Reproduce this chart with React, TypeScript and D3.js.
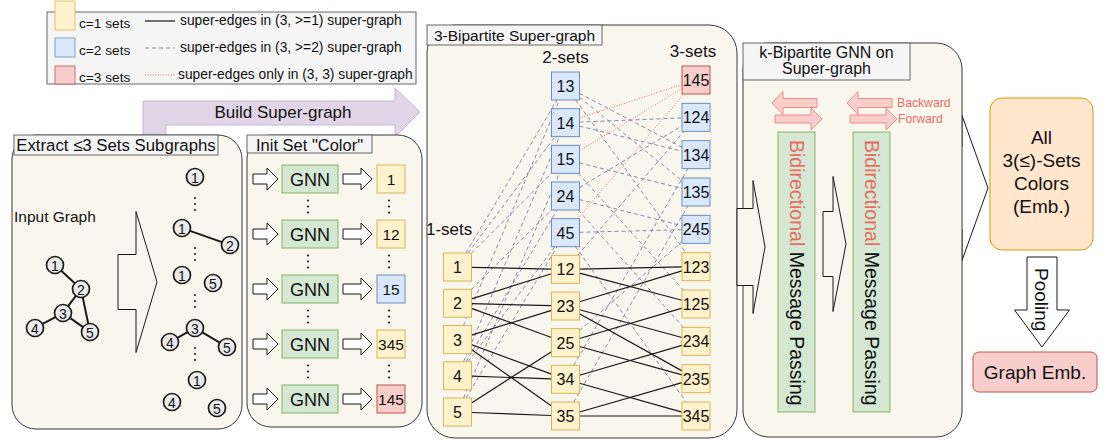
import * as d3 from 'd3';

const FONT = '"Liberation Sans", Arial, Helvetica, sans-serif';

// legend
const legendSets = ['c=1 sets', 'c=2 sets', 'c=3 sets'];
const legendEdges = [
  'super-edges in (3, >=1) super-graph',
  'super-edges in (3, >=2) super-graph',
  'super-edges only in (3, 3) super-graph',
];
const legendKinds = ['solid', 'dashed', 'dotted'];

// input graph
const inputNodes = ['1', '2', '3', '4', '5'];
const inputEdges = [['1', '2'], ['2', '3'], ['2', '5'], ['3', '4'], ['3', '5']];
const inputLayout = [[55, 265], [81, 289], [63, 313], [35, 328], [90, 332]];

// extracted subgraphs
const subgraphNodes = [['1'], ['1', '2'], ['1', '5'], ['3', '4', '5'], ['1', '4', '5']];
const subgraphEdges = [[], [['1', '2']], [], [['3', '4'], ['3', '5']], []];
const subgraphLayout = [
  [[195, 177]],
  [[182, 228], [230, 245]],
  [[182, 275], [213, 283]],
  [[195, 328], [170, 342], [227, 347]],
  [[197, 380], [172, 402], [217, 408]],
];
const subgraphGaps = [[198, 210], [248, 260], [295, 307], [348, 360]];

// init set colors
const initSets = ['1', '12', '15', '345', '145'];
const initSetC = [1, 1, 2, 1, 3];

// super-graph
const oneSets = ['1', '2', '3', '4', '5'];
const twoSets = ['13', '14', '15', '24', '45', '12', '23', '25', '34', '35'];
const twoSetC = [2, 2, 2, 2, 2, 1, 1, 1, 1, 1];
const threeSets = ['145', '124', '134', '135', '245', '123', '125', '234', '235', '345'];
const threeSetC = [3, 2, 2, 2, 2, 1, 1, 1, 1, 1];

const solidEdges = [
  ['1', '12'], ['2', '12'], ['2', '23'], ['2', '25'], ['3', '23'], ['3', '34'], ['3', '35'], ['4', '34'], ['5', '25'], ['5', '35'],
  ['12', '123'], ['12', '125'], ['23', '123'], ['23', '234'], ['23', '235'], ['25', '125'], ['25', '235'], ['34', '234'], ['34', '345'], ['35', '235'], ['35', '345'],
];
const dashedEdges = [
  ['1', '13'], ['3', '13'], ['1', '14'], ['4', '14'], ['1', '15'], ['5', '15'], ['2', '24'], ['4', '24'], ['4', '45'], ['5', '45'],
  ['13', '123'], ['13', '134'], ['13', '135'], ['14', '124'], ['14', '134'], ['24', '124'], ['24', '245'], ['24', '234'],
  ['15', '135'], ['15', '125'], ['45', '245'], ['45', '345'], ['12', '124'], ['34', '134'], ['35', '135'], ['25', '245'],
];
const dottedEdges = [['14', '145'], ['15', '145'], ['45', '145']];

// styles
const setFill: Record<number, string> = { 1: '#fff2cc', 2: '#dae8fc', 3: '#f8cecc' };
const setStroke: Record<number, string> = { 1: '#d6b656', 2: '#6c8ebf', 3: '#b85450' };
const edgeStyle: Record<string, { stroke: string; dash?: string; width: number }> = {
  solid: { stroke: '#1a1a1a', width: 1.2 },
  dashed: { stroke: '#8a86ad', dash: '4 3', width: 1 },
  dotted: { stroke: '#e0706c', dash: '1 1.6', width: 1 },
};
const PANEL_FILL = '#f9f7ed';
const PANEL_STROKE = '#36393d';
const PINK = '#ea6b66';

function hArrow(x0: number, x1: number, cy: number, bodyH: number, headH: number, headLen: number, dir = 1) {
  const p = d3.path();
  if (dir === 1) {
    const hx = x1 - headLen;
    p.moveTo(x0, cy - bodyH / 2);
    p.lineTo(hx, cy - bodyH / 2);
    p.lineTo(hx, cy - headH / 2);
    p.lineTo(x1, cy);
    p.lineTo(hx, cy + headH / 2);
    p.lineTo(hx, cy + bodyH / 2);
    p.lineTo(x0, cy + bodyH / 2);
  } else {
    const hx = x0 + headLen;
    p.moveTo(x1, cy - bodyH / 2);
    p.lineTo(hx, cy - bodyH / 2);
    p.lineTo(hx, cy - headH / 2);
    p.lineTo(x0, cy);
    p.lineTo(hx, cy + headH / 2);
    p.lineTo(hx, cy + bodyH / 2);
    p.lineTo(x1, cy + bodyH / 2);
  }
  p.closePath();
  return p.toString();
}

function vArrow(cx: number, y0: number, y1: number, bodyW: number, headW: number, headLen: number) {
  const p = d3.path();
  const hy = y1 - headLen;
  p.moveTo(cx - bodyW / 2, y0);
  p.lineTo(cx + bodyW / 2, y0);
  p.lineTo(cx + bodyW / 2, hy);
  p.lineTo(cx + headW / 2, hy);
  p.lineTo(cx, y1);
  p.lineTo(cx - headW / 2, hy);
  p.lineTo(cx - bodyW / 2, hy);
  p.closePath();
  return p.toString();
}

function clipBox(ax: number, ay: number, bx: number, by: number, h: number) {
  const dx = bx - ax, dy = by - ay;
  const t = h / Math.max(Math.abs(dx), Math.abs(dy));
  return [ax + dx * t, ay + dy * t];
}

function clipCircle(ax: number, ay: number, bx: number, by: number, r: number) {
  const dx = bx - ax, dy = by - ay;
  const len = Math.hypot(dx, dy);
  return [ax + (dx / len) * r, ay + (dy / len) * r];
}

function Dots({ x, y0, y1 }: { x: number; y0: number; y1: number }) {
  const s = d3.scaleLinear().domain([0, 2]).range([y0, y1]);
  return (
    <g>
      {[0, 1, 2].map(i => <circle key={i} cx={x} cy={s(i)} r={1.1} fill="#222" />)}
    </g>
  );
}

function Panel({ x, y, w, h, r = 24 }: { x: number; y: number; w: number; h: number; r?: number }) {
  return <rect x={x} y={y} width={w} height={h} rx={r} ry={r} fill={PANEL_FILL} stroke={PANEL_STROKE} strokeWidth={1} />;
}

function LabelBox({ x, y, w, h, lines, size }: { x: number; y: number; w: number; h: number; lines: string[]; size: number }) {
  return (
    <g>
      <rect x={x} y={y} width={w} height={h} fill="#f5f5f5" stroke="#666666" strokeWidth={1} />
      {lines.map((l, i) => (
        <text key={i} x={x + w / 2} y={lines.length === 1 ? y + h / 2 + 0.5 : y + 9 + i * 16} dominantBaseline="central"
          textAnchor="middle" fontSize={size} fill="#111">{l}</text>
      ))}
    </g>
  );
}

function GraphNode({ x, y, label }: { x: number; y: number; label: string }) {
  return (
    <g>
      <circle cx={x} cy={y} r={8.5} fill="#ebebeb" stroke="#1a1a1a" strokeWidth={1.7} />
      <text x={x} y={y + 0.5} textAnchor="middle" dominantBaseline="central" fontSize={14} fill="#111">{label}</text>
    </g>
  );
}

function SetBox({ cx, cy, label, c, size = 28, fontSize = 16 }: { cx: number; cy: number; label: string; c: number; size?: number; fontSize?: number }) {
  return (
    <g>
      <rect x={cx - size / 2} y={cy - size / 2} width={size} height={size} fill={setFill[c]} stroke={setStroke[c]} strokeWidth={1} />
      <text x={cx} y={cy + 0.5} textAnchor="middle" dominantBaseline="central" fontSize={fontSize} fill="#111">{label}</text>
    </g>
  );
}

export default function App() {
  const width = 1112;
  const height = 444;

  // legend rows
  const legendY = d3.scaleLinear().domain([0, 2]).range([23, 77]);
  const legendC = [1, 2, 3];
  const swatchSpan = [[1, 30], [38, 57], [66, 84]];

  // init rows
  const initY = d3.scaleLinear().domain([0, initSets.length - 1]).range([179, 399]);

  // super-graph columns
  const colX = { one: 457.5, two: 565.5, three: 696 };
  const oneY = d3.scaleLinear().domain([0, oneSets.length - 1]).range([267, 412]);
  const twoY = d3.scaleLinear().domain([0, twoSets.length - 1]).range([86, 416]);
  const threeY = d3.scaleLinear().domain([0, threeSets.length - 1]).range([80, 416]);

  const pos = new Map<string, [number, number]>();
  oneSets.forEach((s, i) => pos.set(s, [colX.one, oneY(i)]));
  twoSets.forEach((s, i) => pos.set(s, [colX.two, twoY(i)]));
  threeSets.forEach((s, i) => pos.set(s, [colX.three, threeY(i)]));

  const half = 14;
  const edgePath = (a: string, b: string) => {
    const [ax, ay] = pos.get(a)!;
    const [bx, by] = pos.get(b)!;
    const p0 = clipBox(ax, ay, bx, by, half);
    const p1 = clipBox(bx, by, ax, ay, half);
    return d3.line()([p0 as [number, number], p1 as [number, number]])!;
  };

  const renderEdges = (edges: string[][], kind: string) =>
    edges.map(([a, b], i) => (
      <path key={kind + i} d={edgePath(a, b)} fill="none" stroke={edgeStyle[kind].stroke}
        strokeWidth={edgeStyle[kind].width} strokeDasharray={edgeStyle[kind].dash} />
    ));

  const nodeEdge = (a: number[], b: number[], key: string) => {
    const p0 = clipCircle(a[0], a[1], b[0], b[1], 8.5);
    const p1 = clipCircle(b[0], b[1], a[0], a[1], 8.5);
    return <line key={key} x1={p0[0]} y1={p0[1]} x2={p1[0]} y2={p1[1]} stroke="#1a1a1a" strokeWidth={2} />;
  };

  const bars = [{ x: 778, w: 37 }, { x: 853, w: 37 }];

  return (
    <svg width={width} height={height} style={{ position: 'absolute', left: 0, top: 0, fontFamily: FONT }}>
      <rect width={width} height={height} fill="#ffffff" />

      {/* Build Super-graph bent arrow */}
      <path d="M143,142 L143,101 L395,101 L395,88 L420,112 L395,137 L395,125 L166,125 L166,142 Z"
        fill="#e1d5e7" stroke="#c7b2d3" strokeWidth={1} />
      <text x={283} y={112} textAnchor="middle" dominantBaseline="central" fontSize={17} fill="#111">Build Super-graph</text>

      {/* Legend */}
      <rect x={47} y={12} width={369} height={72} fill="#f5f5f5" stroke="#666666" strokeWidth={1} />
      {legendSets.map((s, i) => {
        const y = legendY(i);
        const st = edgeStyle[legendKinds[i]];
        return (
          <g key={s}>
            <rect x={55} y={swatchSpan[i][0]} width={20} height={swatchSpan[i][1] - swatchSpan[i][0]}
              fill={setFill[legendC[i]]} stroke={setStroke[legendC[i]]} strokeWidth={0.8} />
            <text x={79} y={y} dominantBaseline="central" fontSize={13.7} fill="#111">{s}</text>
            <line x1={145} x2={175} y1={y - 2} y2={y - 2} stroke={st.stroke} strokeWidth={st.width} strokeDasharray={st.dash} />
            <text x={i === 2 ? 178 : 180} y={y - 2.5} dominantBaseline="central" fontSize={13.8} fill="#111">{legendEdges[i]}</text>
          </g>
        );
      })}

      {/* Panel 1: extract subgraphs */}
      <Panel x={12} y={135} w={230} h={294} />
      <LabelBox x={14} y={135} w={204} h={20} lines={['Extract ≤3 Sets Subgraphs']} size={16.8} />
      <text x={14} y={216} dominantBaseline="central" fontSize={15.5} fill="#111">Input Graph</text>
      {inputEdges.map(([a, b], i) =>
        nodeEdge(inputLayout[inputNodes.indexOf(a)], inputLayout[inputNodes.indexOf(b)], 'ie' + i))}
      {inputNodes.map((n, i) => <GraphNode key={'in' + n} x={inputLayout[i][0]} y={inputLayout[i][1]} label={n} />)}

      <path d={hArrow(118, 157, 282, 55, 141, 21)} fill={PANEL_FILL} stroke="#1a1a1a" strokeWidth={1} />

      {subgraphNodes.map((nodes, gi) => (
        <g key={'sg' + gi}>
          {subgraphEdges[gi].map(([a, b], ei) =>
            nodeEdge(subgraphLayout[gi][nodes.indexOf(a)], subgraphLayout[gi][nodes.indexOf(b)], 'se' + gi + ei))}
          {nodes.map((n, ni) => <GraphNode key={n} x={subgraphLayout[gi][ni][0]} y={subgraphLayout[gi][ni][1]} label={n} />)}
        </g>
      ))}
      {subgraphGaps.map(([a, b], i) => <Dots key={'sd' + i} x={195} y0={a} y1={b} />)}

      {/* Panel 2: init set color */}
      <Panel x={247} y={135} w={175} h={292} />
      <LabelBox x={247} y={135} w={125} h={18} lines={['Init Set "Color"']} size={16.5} />
      {initSets.map((s, i) => {
        const y = initY(i);
        return (
          <g key={'init' + s}>
            <path d={hArrow(253, 278, y, 10, 22, 11)} fill="#ffffff" stroke="#1a1a1a" strokeWidth={1} />
            <rect x={282} y={y - 14} width={56} height={28} fill="#d5e8d4" stroke="#82b366" strokeWidth={1} />
            <text x={310} y={y + 0.5} textAnchor="middle" dominantBaseline="central" fontSize={18} fill="#111">GNN</text>
            <path d={hArrow(343, 372, y, 10, 22, 11)} fill="#ffffff" stroke="#1a1a1a" strokeWidth={1} />
            <SetBox cx={391} cy={y} label={s} c={initSetC[i]} fontSize={15.5} />
          </g>
        );
      })}
      {initSets.slice(1).map((s, i) => {
        const m = (initY(i) + initY(i + 1)) / 2;
        return (
          <g key={'idots' + s}>
            <Dots x={308} y0={m - 6} y1={m + 6} />
            <Dots x={389} y0={m - 6} y1={m + 6} />
          </g>
        );
      })}

      {/* Panel 3: super-graph */}
      <Panel x={427} y={25} w={310} h={413} r={28} />
      <LabelBox x={427} y={25} w={175} h={20} lines={['3-Bipartite Super-graph']} size={15.5} />
      <text x={colX.two} y={57} textAnchor="middle" dominantBaseline="central" fontSize={17} fill="#111">2-sets</text>
      <text x={colX.three - 3} y={51} textAnchor="middle" dominantBaseline="central" fontSize={17} fill="#111">3-sets</text>
      <text x={426} y={229} dominantBaseline="central" fontSize={17} fill="#111">1-sets</text>

      {renderEdges(dashedEdges, 'dashed')}
      {renderEdges(dottedEdges, 'dotted')}
      {renderEdges(solidEdges, 'solid')}

      {oneSets.map((s, i) => <SetBox key={'o' + s} cx={colX.one} cy={oneY(i)} label={s} c={1} />)}
      {twoSets.map((s, i) => <SetBox key={'t' + s} cx={colX.two} cy={twoY(i)} label={s} c={twoSetC[i]} />)}
      {threeSets.map((s, i) => <SetBox key={'h' + s} cx={colX.three} cy={threeY(i)} label={s} c={threeSetC[i]} />)}

      {/* Panel 4: GNN */}
      <path d={hArrow(942, 988, 188, 82, 145, 26)} fill="none" stroke="#1a1a1a" strokeWidth={1} />
      <Panel x={743} y={43} w={219} h={394} r={26} />
      <LabelBox x={743} y={43} w={167} h={37} lines={['k-Bipartite GNN on', 'Super-graph']} size={16} />
      <path d={hArrow(737, 765, 247, 77, 133, 12)} fill={PANEL_FILL} stroke="#1a1a1a" strokeWidth={1} />
      <path d={hArrow(823, 846, 244, 65, 135, 13)} fill={PANEL_FILL} stroke="#1a1a1a" strokeWidth={1} />
      {bars.map((b, i) => (
        <g key={'bar' + i}>
          <rect x={b.x} y={132} width={b.w} height={280} fill="#d5e8d4" stroke="#82b366" strokeWidth={1} />
          <text transform={`translate(${b.x + b.w / 2},140) rotate(90)`} dominantBaseline="central" fontSize={19.5}>
            <tspan fill={PINK}>Bidirectional</tspan>
            <tspan fill="#111"> Message Passing</tspan>
          </text>
          <path d={hArrow(b.x - 6, b.x + 39, 103, 9, 23, 11, -1)} fill="#f8cecc" stroke="#e58e8a" strokeWidth={1} />
          <path d={hArrow(b.x - 3, b.x + 44, 119, 8, 22, 11, 1)} fill="#f8cecc" stroke="#e58e8a" strokeWidth={1} />
        </g>
      ))}
      <text x={897} y={103} dominantBaseline="central" fontSize={12.2} fill={PINK}>Backward</text>
      <text x={898} y={119} dominantBaseline="central" fontSize={12.2} fill={PINK}>Forward</text>

      {/* Output */}
      <rect x={990} y={98} width={103} height={152} rx={12} ry={12} fill="#ffe6cc" stroke="#d79b00" strokeWidth={1} />
      {['All', '3(≤)-Sets', 'Colors', '(Emb.)'].map((t, i) => (
        <text key={t} x={1041.5} y={137 + i * 23} textAnchor="middle" dominantBaseline="central" fontSize={19} fill="#111">{t}</text>
      ))}
      <path d={vArrow(1042, 257, 347, 30, 55, 37)} fill="#ffffff" stroke="#1a1a1a" strokeWidth={1} />
      <text transform="translate(1041,268) rotate(90)" dominantBaseline="central" fontSize={19} fill="#111">Pooling</text>
      <rect x={973} y={352} width={124} height={40} rx={6} ry={6} fill="#f8cecc" stroke="#b85450" strokeWidth={1} />
      <text x={1035} y={372} textAnchor="middle" dominantBaseline="central" fontSize={19} fill="#111">Graph Emb.</text>
    </svg>
  );
}
